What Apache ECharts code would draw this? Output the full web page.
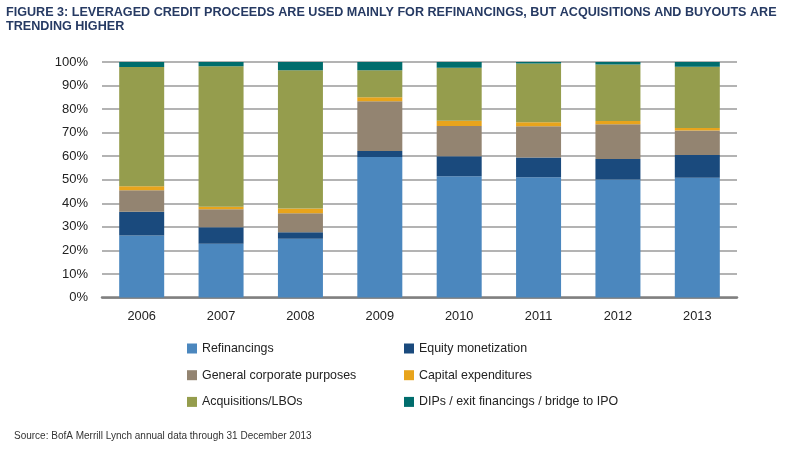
<!DOCTYPE html>
<html>
<head>
<meta charset="utf-8">
<script src="https://cdn.jsdelivr.net/npm/echarts@6/dist/echarts.min.js"></script>
<style>
html,body{margin:0;padding:0;background:#fff;}
#c{width:798px;height:464px;}
</style>
</head>
<body>
<div id="c"></div>
<script>
var years = ['2006','2007','2008','2009','2010','2011','2012','2013'];
var refinancings = [26.3, 22.8, 24.9, 59.7, 51.5, 51.1, 50.1, 50.8];
var equityMonetization = [10.1, 7.0, 2.8, 2.5, 8.5, 8.3, 8.7, 9.7];
var generalCorporate = [9.1, 7.7, 8.1, 21.1, 12.8, 13.3, 14.8, 10.4];
var capitalExpenditures = [1.7, 1.0, 2.0, 1.7, 2.3, 1.7, 1.4, 1.1];
var acquisitionsLBOs = [50.7, 59.7, 58.7, 11.5, 22.5, 25.0, 23.9, 26.0];
var dips = [2.1, 1.8, 3.5, 3.5, 2.4, 0.6, 1.1, 2.0];
var yTicks = ['0%','10%','20%','30%','40%','50%','60%','70%','80%','90%','100%'];

var names = ['Refinancings','Equity monetization','General corporate purposes','Capital expenditures','Acquisitions/LBOs','DIPs / exit financings / bridge to IPO'];
var values = [refinancings, equityMonetization, generalCorporate, capitalExpenditures, acquisitionsLBOs, dips];
var colors = ['#4b87be','#1a4a7d','#938471','#e8a41c','#959d4d','#006d6d'];

var font = '"Liberation Sans", Arial, sans-serif';
var chart = echarts.init(document.getElementById('c'));
var series = names.map(function(n, i){
  return {
    name: n, type: 'bar', stack: 'total', barWidth: 45,
    data: values[i], itemStyle: {color: colors[i]}, animation: false
  };
});
chart.setOption({
  animation: false,
  textStyle: {fontFamily: font},
  title: [{
    text: 'FIGURE 3: LEVERAGED CREDIT PROCEEDS ARE USED MAINLY FOR REFINANCINGS, BUT ACQUISITIONS AND BUYOUTS ARE\nTRENDING HIGHER',
    left: 6, top: 5, padding: 0,
    textStyle: {fontFamily: font, fontSize: 12.6, fontWeight: 'bold', color: '#263a63', lineHeight: 14.6}
  },{
    text: 'Source: BofA Merrill Lynch annual data through 31 December 2013',
    left: 14, top: 431, padding: 0,
    textStyle: {fontFamily: font, fontSize: 10, fontWeight: 'normal', color: '#333'}
  }],
  legend: [{
    data: [names[0], names[2], names[4]],
    orient: 'vertical', left: 187, top: 341, padding: 0,
    itemWidth: 10, itemHeight: 10, itemGap: 11.7, icon: 'rect',
    textStyle: {fontFamily: font, fontSize: 12.4, color: '#222', lineHeight: 15}
  },{
    data: [names[1], names[3], names[5]],
    orient: 'vertical', left: 404, top: 341, padding: 0,
    itemWidth: 10, itemHeight: 10, itemGap: 11.7, icon: 'rect',
    textStyle: {fontFamily: font, fontSize: 12.4, color: '#222', lineHeight: 15}
  }],
  grid: {left: 102, right: 61, top: 62, bottom: 166.5, containLabel: false},
  xAxis: {
    type: 'category', data: years,
    axisLine: {lineStyle: {color: '#808080', width: 2.5}},
    axisTick: {show: false},
    axisLabel: {fontFamily: font, fontSize: 12.8, color: '#222', margin: 12}
  },
  yAxis: {
    type: 'value', min: 0, max: 100, interval: 10,
    axisLine: {show: false}, axisTick: {show: false},
    axisLabel: {
      fontFamily: font, fontSize: 13, color: '#222', margin: 14,
      formatter: function(v){ return yTicks[Math.round(v/10)]; }
    },
    splitLine: {lineStyle: {color: '#9a9a9a', width: 1.5}}
  },
  series: series
});
</script>
</body>
</html>
